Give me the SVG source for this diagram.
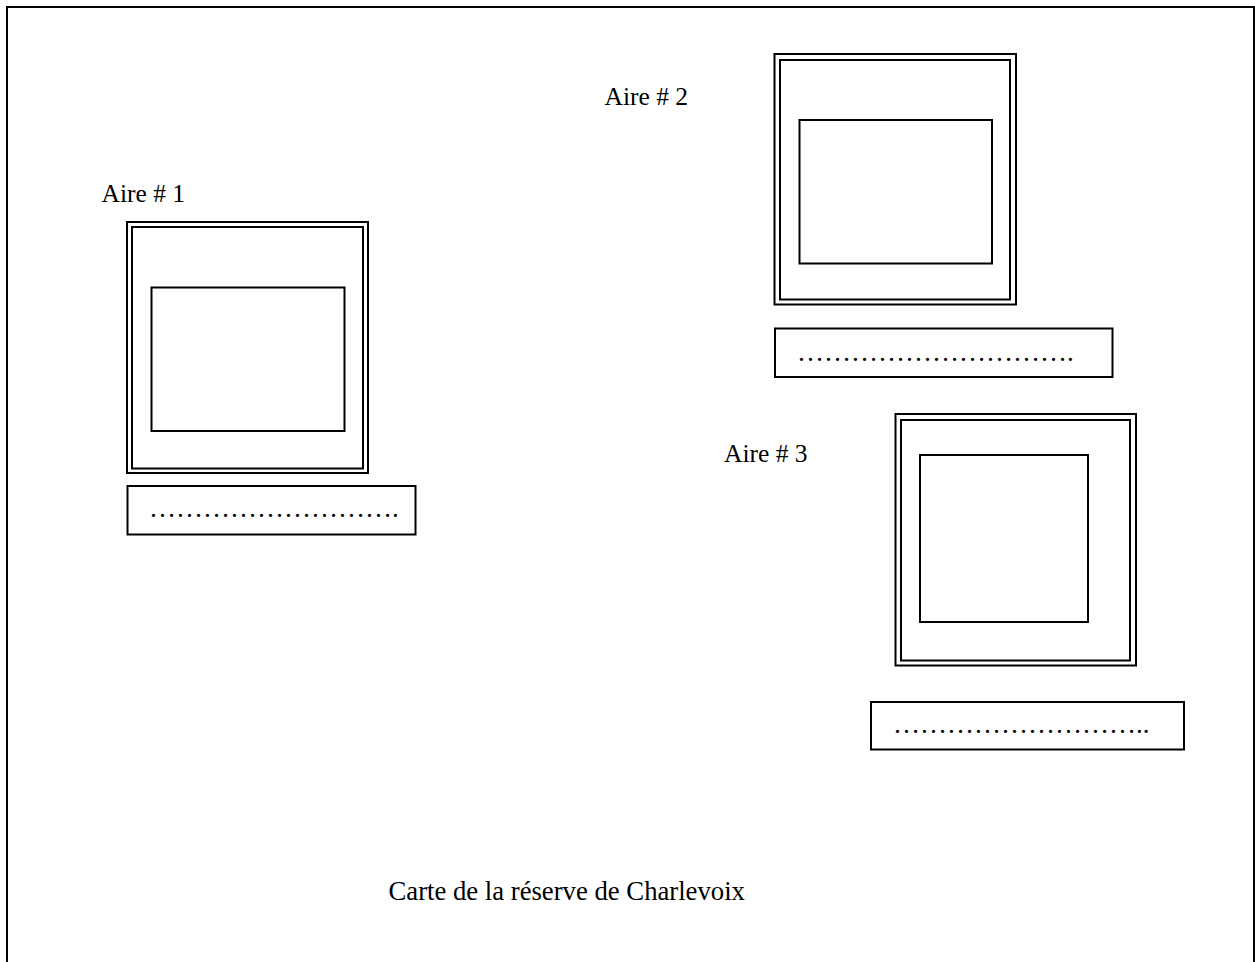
<svg xmlns="http://www.w3.org/2000/svg" width="1255" height="962" viewBox="0 0 1255 962">
<style>
.b{fill:none;stroke:#000;stroke-width:2}
.t{font-family:"Liberation Serif","Times New Roman",serif;font-size:25.5px;fill:#000}
.d{font-family:"Liberation Serif","Times New Roman",serif;font-size:27px;fill:#000}
</style>
<rect width="1255" height="962" fill="#fff"/>
<rect class="b" x="7" y="7" width="1247" height="980"/>
<g id="aire1">
<text class="t" x="101.5" y="201.5">Aire # 1</text>
<rect class="b" x="127" y="222" width="241" height="251"/>
<rect class="b" x="132" y="227" width="231" height="241.5"/>
<rect class="b" x="151.5" y="287.5" width="193" height="143.5"/>
<rect class="b" x="127.5" y="486" width="288" height="48.5"/>
<text class="d" x="149" y="517">……………………….</text>
</g>
<g id="aire2">
<text class="t" x="604.5" y="105">Aire # 2</text>
<rect class="b" x="774.5" y="54" width="241.5" height="250.5"/>
<rect class="b" x="780" y="60" width="230" height="239.5"/>
<rect class="b" x="799.5" y="120" width="192.5" height="143.5"/>
<rect class="b" x="775" y="328.5" width="337.5" height="48.5"/>
<text class="d" x="797" y="360.5">………………………….</text>
</g>
<g id="aire3">
<text class="t" x="724" y="461.5">Aire # 3</text>
<rect class="b" x="895.5" y="414" width="240.5" height="251.5"/>
<rect class="b" x="901" y="420" width="229" height="240.5"/>
<rect class="b" x="920" y="455" width="168" height="167"/>
<rect class="b" x="871" y="702" width="313" height="47.5"/>
<text class="d" x="893" y="733">………………………..</text>
</g>
<g id="connectors"/>
<text class="t" x="388.5" y="900" style="font-size:26.7px">Carte de la réserve de Charlevoix</text>
</svg>
